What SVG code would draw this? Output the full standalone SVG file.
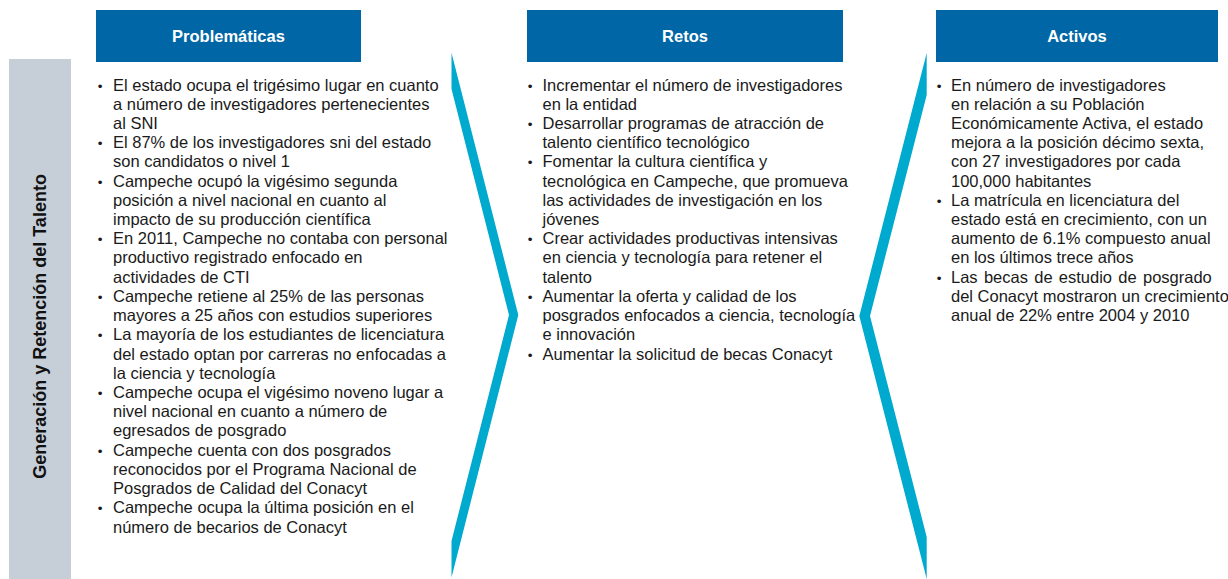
<svg xmlns="http://www.w3.org/2000/svg" width="1228" height="579" viewBox="0 0 1228 579">
<style>
.hdr{fill:#0066a5}
.hdrt{font-family:"Liberation Sans",Arial,sans-serif;font-weight:bold;font-size:16.5px;fill:#ffffff;text-anchor:middle}
.body{font-family:"Liberation Sans",Arial,sans-serif;font-size:16.5px;fill:#1a1a1a}
.bul{font-family:"Liberation Sans",Arial,sans-serif;font-size:13.5px;fill:#1a1a1a;text-anchor:middle}
.chev{fill:#00a9ce}
.side{fill:#c6ced8}
.sidet{font-family:"Liberation Sans",Arial,sans-serif;font-weight:bold;font-size:18px;fill:#111111;text-anchor:middle}
</style>
<rect width="1228" height="579" fill="#ffffff"/>

<g id="side-label">
<rect class="side" x="9" y="59" width="62" height="520"/>
<text class="sidet" transform="translate(46,326.5) rotate(-90)">Generación y Retención del Talento</text>
</g>

<g id="chevrons">
<polygon class="chev" points="451.5,52.7 518.3,315 451.5,577.5 451.5,541 509,315 451.5,89"/>
<polygon class="chev" points="926.7,53 859.3,316 926.7,579 926.7,537 870,316 926.7,95"/>
</g>

<g id="problematicas">
<rect class="hdr" x="96" y="10" width="265" height="52"/>
<text class="hdrt" x="228.5" y="42">Problemáticas</text>
<text class="bul"><tspan x="100" y="90.5">•</tspan><tspan x="100" y="148.16">•</tspan><tspan x="100" y="186.6">•</tspan><tspan x="100" y="244.26">•</tspan><tspan x="100" y="301.92">•</tspan><tspan x="100" y="340.36">•</tspan><tspan x="100" y="398.02">•</tspan><tspan x="100" y="455.68">•</tspan><tspan x="100" y="513.34">•</tspan></text>
<text class="body" x="113" y="90.5">
<tspan x="113" y="90.5">El estado ocupa el trigésimo lugar en cuanto</tspan>
<tspan x="113" dy="19.22">a número de investigadores pertenecientes</tspan>
<tspan x="113" dy="19.22">al SNI</tspan>
<tspan x="113" dy="19.22">El 87% de los investigadores sni del estado</tspan>
<tspan x="113" dy="19.22">son candidatos o nivel 1</tspan>
<tspan x="113" dy="19.22">Campeche ocupó la vigésimo segunda</tspan>
<tspan x="113" dy="19.22">posición a nivel nacional en cuanto al</tspan>
<tspan x="113" dy="19.22">impacto de su producción científica</tspan>
<tspan x="113" dy="19.22">En 2011, Campeche no contaba con personal</tspan>
<tspan x="113" dy="19.22">productivo registrado enfocado en</tspan>
<tspan x="113" dy="19.22">actividades de CTI</tspan>
<tspan x="113" dy="19.22">Campeche retiene al 25% de las personas</tspan>
<tspan x="113" dy="19.22">mayores a 25 años con estudios superiores</tspan>
<tspan x="113" dy="19.22">La mayoría de los estudiantes de licenciatura</tspan>
<tspan x="113" dy="19.22">del estado optan por carreras no enfocadas a</tspan>
<tspan x="113" dy="19.22">la ciencia y tecnología</tspan>
<tspan x="113" dy="19.22">Campeche ocupa el vigésimo noveno lugar a</tspan>
<tspan x="113" dy="19.22">nivel nacional en cuanto a número de</tspan>
<tspan x="113" dy="19.22">egresados de posgrado</tspan>
<tspan x="113" dy="19.22">Campeche cuenta con dos posgrados</tspan>
<tspan x="113" dy="19.22">reconocidos por el Programa Nacional de</tspan>
<tspan x="113" dy="19.22">Posgrados de Calidad del Conacyt</tspan>
<tspan x="113" dy="19.22">Campeche ocupa la última posición en el</tspan>
<tspan x="113" dy="19.22">número de becarios de Conacyt</tspan>
</text>
</g>

<g id="retos">
<rect class="hdr" x="527" y="10" width="316" height="52"/>
<text class="hdrt" x="685" y="42">Retos</text>
<text class="bul"><tspan x="530" y="90.5">•</tspan><tspan x="530" y="128.94">•</tspan><tspan x="530" y="167.38">•</tspan><tspan x="530" y="244.26">•</tspan><tspan x="530" y="301.92">•</tspan><tspan x="530" y="359.58">•</tspan></text>
<text class="body" x="542.5" y="90.5">
<tspan x="542.5" y="90.5">Incrementar el número de investigadores</tspan>
<tspan x="542.5" dy="19.22">en la entidad</tspan>
<tspan x="542.5" dy="19.22">Desarrollar programas de atracción de</tspan>
<tspan x="542.5" dy="19.22">talento científico tecnológico</tspan>
<tspan x="542.5" dy="19.22">Fomentar la cultura científica y</tspan>
<tspan x="542.5" dy="19.22">tecnológica en Campeche, que promueva</tspan>
<tspan x="542.5" dy="19.22">las actividades de investigación en los</tspan>
<tspan x="542.5" dy="19.22">jóvenes</tspan>
<tspan x="542.5" dy="19.22">Crear actividades productivas intensivas</tspan>
<tspan x="542.5" dy="19.22">en ciencia y tecnología para retener el</tspan>
<tspan x="542.5" dy="19.22">talento</tspan>
<tspan x="542.5" dy="19.22">Aumentar la oferta y calidad de los</tspan>
<tspan x="542.5" dy="19.22">posgrados enfocados a ciencia, tecnología</tspan>
<tspan x="542.5" dy="19.22">e innovación</tspan>
<tspan x="542.5" dy="19.22">Aumentar la solicitud de becas Conacyt</tspan>
</text>
</g>

<g id="activos">
<rect class="hdr" x="936" y="10" width="282" height="52"/>
<text class="hdrt" x="1077" y="42">Activos</text>
<text class="bul"><tspan x="939" y="90.5">•</tspan><tspan x="939" y="205.82">•</tspan><tspan x="939" y="282.7">•</tspan></text>
<text class="body" x="951" y="90.5">
<tspan x="951" y="90.5">En número de investigadores</tspan>
<tspan x="951" dy="19.22">en relación a su Población</tspan>
<tspan x="951" dy="19.22">Económicamente Activa, el estado</tspan>
<tspan x="951" dy="19.22">mejora a la posición décimo sexta,</tspan>
<tspan x="951" dy="19.22">con 27 investigadores por cada</tspan>
<tspan x="951" dy="19.22">100,000 habitantes</tspan>
<tspan x="951" dy="19.22">La matrícula en licenciatura del</tspan>
<tspan x="951" dy="19.22">estado está en crecimiento, con un</tspan>
<tspan x="951" dy="19.22">aumento de 6.1% compuesto anual</tspan>
<tspan x="951" dy="19.22">en los últimos trece años</tspan>
<tspan x="951" dy="19.22" word-spacing="1.7">Las becas de estudio de posgrado</tspan>
<tspan x="951" dy="19.22">del Conacyt mostraron un crecimiento</tspan>
<tspan x="951" dy="19.22">anual de 22% entre 2004 y 2010</tspan>
</text>
</g>
</svg>
